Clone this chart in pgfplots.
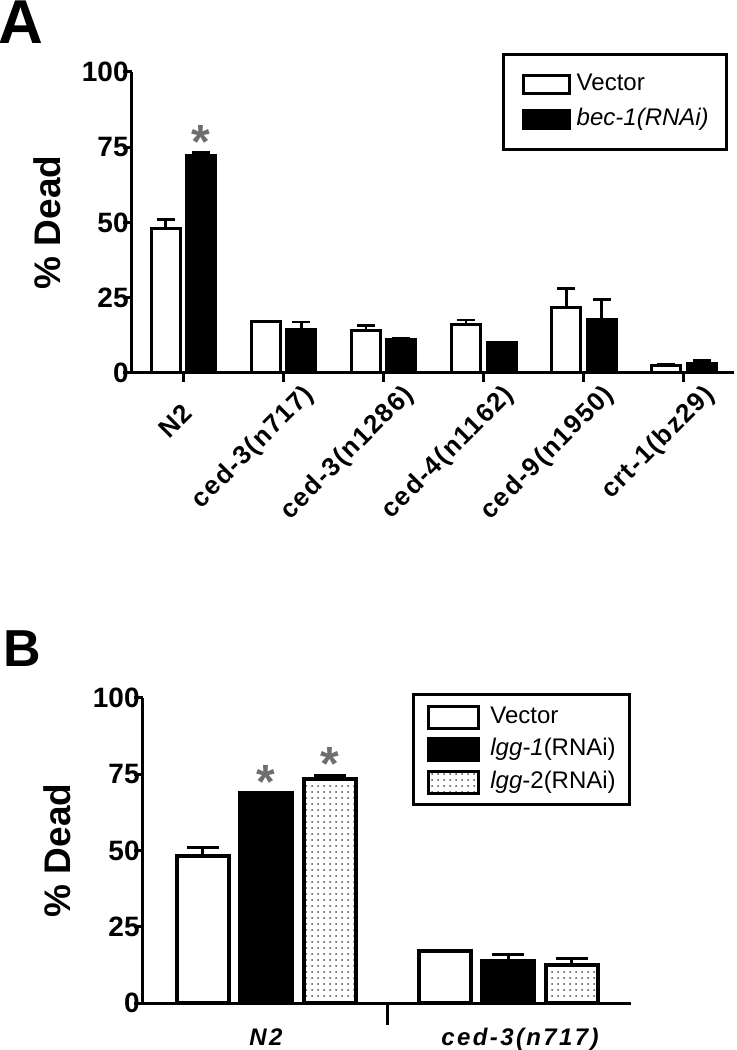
\documentclass[border=0pt]{standalone}
\usepackage{pgfplots}
\pgfplotsset{compat=1.18}
\usepackage{pgfplotstable}
\usepackage{fontspec}
\setmainfont{Liberation Sans}
\newfontfamily\lsfont[LetterSpace=6]{Liberation Sans}
\newfontfamily\lsfontb[LetterSpace=10]{Liberation Sans}
\usetikzlibrary{patterns}
\definecolor{stargray}{RGB}{110,110,110}

% panel A: mean and error (plus) per strain
\pgfplotstableread{
x v ve b be
0 48.0 3.0 72.4 0.8
1 17.0 0.2 14.6 2.4
2 14.0 1.8 11.0 0.6
3 16.0 1.6 10.0 0.2
4 21.8 6.3 17.8 6.7
5 2.6 0.4 3.2 0.9
}\dataA

% panel B
\pgfplotstableread{
x v ve g ge h he
0 48.2 2.8 68.8 0.3 73.4 1.1
1 17.0 0.2 13.8 2.2 12.5 2.1
}\dataB

\pgfplotsset{
  barlegA/.style={legend image code/.code={\draw[##1, line width=1.5pt] (0pt,-4.5pt) rectangle (23pt,4.5pt);}},
  barlegB/.style={legend image code/.code={\draw[##1, line width=1.5pt] (0pt,-5.5pt) rectangle (25pt,5.5pt);}},
  common/.style={
    scale only axis, clip=false,
    ymin=0, ymax=100, ytick={0,25,50,75,100},
    axis x line=bottom, axis y line=left,
    axis line style={-, line width=1.5pt},
    tick style={black, line width=1.5pt},
    major tick length=4.5pt, tick align=outside,
    /pgf/number format/assume math mode=true,
    yticklabel style={font=\bfseries\fontsize{14}{14}\selectfont, inner sep=0pt, xshift=3pt},
    ylabel={\% Dead},
    ylabel style={anchor=center, font=\bfseries\fontsize{18.5}{18.5}\selectfont},
    legend cell align=left,
    legend style={draw=black, line width=1.5pt, anchor=north west,
      font=\fontsize{12}{12}\selectfont,
      nodes={inner sep=0pt, text height=9pt, text depth=3pt}},
  },
  errA/.style={error bars/.cd, y dir=plus, y explicit,
    error bar style={line width=1.3pt},
    error mark options={rotate=90, line width=1.3pt, mark size=4.5pt}},
  errB/.style={error bars/.cd, y dir=plus, y explicit,
    error bar style={line width=1.5pt},
    error mark options={rotate=90, line width=1.5pt, mark size=8pt}},
  star/.style={draw=none, mark=none, forget plot,
    nodes near coords={*},
    every node near coord/.style={anchor=center, inner sep=0pt, text=stargray,
      font=\bfseries\fontsize{24}{24}\selectfont}},
}

\begin{document}
\begin{tikzpicture}
\useasboundingbox (0,0) rectangle (368pt,525pt);

\node[anchor=base west, inner sep=0pt, font=\bfseries\fontsize{31}{31}\selectfont] at (-1pt,503pt) {A};
\node[anchor=base west, inner sep=0pt, font=\bfseries\fontsize{26}{26}\selectfont] at (1.5pt,191.5pt) {B};

\begin{axis}[common,
  at={(66pt,338.5pt)}, anchor=south west,
  width=301pt, height=150.5pt,
  xmin=-0.51, xmax=5.5,
  xtick={0,...,5},
  xticklabels={N2\kern14pt, ced-3(n717), ced-3(n1286), ced-4(n1162), ced-9(n1950), crt-1(bz29)},
  xticklabel style={xshift=9pt, rotate=45, anchor=north east, inner sep=0pt,
    font=\lsfont\bfseries\fontsize{13}{13}\selectfont},
  ylabel style={at={(axis description cs:-0.140,0.5)}},
  legend style={at={(axis description cs:0.615,1.063)},
    inner xsep=9pt, inner ysep=9pt, row sep=5.5pt, column sep=3pt},
]
\addplot[ybar, bar width=0.29, bar shift=0, fill=white, draw=black, line width=1.5pt, barlegA, errA]
  table[x expr=\thisrow{x}-0.175, y=v, y error=ve] {\dataA};
\addlegendentry{Vector}
\addplot[ybar, bar width=0.29, bar shift=0, fill=black, draw=black, line width=1.5pt, barlegA, errA]
  table[x expr=\thisrow{x}+0.18, y=b, y error=be] {\dataA};
\addlegendentry{\textit{bec-1(RNAi)}}
\addplot[star] coordinates {(0.18,76.7)};
\end{axis}

\begin{axis}[common,
  at={(71.5pt,23.5pt)}, anchor=south west,
  width=244pt, height=152.5pt,
  xmin=-0.508, xmax=1.508,
  xtick={0,1}, xticklabels={N2, \hspace*{12pt}ced-3(n717)},
  xtick style={draw=none},
  xticklabel style={anchor=north, inner sep=0pt, yshift=-8pt,
    font=\lsfontb\bfseries\itshape\fontsize{12}{12}\selectfont},
  extra x ticks={0.5}, extra x tick labels={},
  extra x tick style={major tick length=11pt, xtick style={draw=black, line width=1.5pt}},
  ylabel style={at={(axis description cs:-0.176,0.5)}},
  legend style={at={(axis description cs:0.551,1.016)},
    inner xsep=7pt, inner ysep=5pt, row sep=3.75pt, column sep=5pt},
]
\addplot[ybar, bar width=0.215, bar shift=0, fill=white, draw=black, line width=2pt, barlegB, errB]
  table[x expr=\thisrow{x}-0.262, y=v, y error=ve] {\dataB};
\addlegendentry{Vector}
\addplot[ybar, bar width=0.215, bar shift=0, fill=black, draw=black, line width=2pt, barlegB, errB]
  table[x=x, y=g, y error=ge] {\dataB};
\addlegendentry{\textit{lgg-1}(RNAi)}
\addplot[ybar, bar width=0.215, bar shift=0, fill=white, postaction={pattern=dots, pattern color=black!70},
  draw=black, line width=2pt, barlegB, errB]
  table[x expr=\thisrow{x}+0.264, y=h, y error=he] {\dataB};
\addlegendentry{\textit{lgg}-2(RNAi)}
\addplot[star] coordinates {(0,72.5) (0.264,78.4)};
\end{axis}
\end{tikzpicture}
\end{document}
